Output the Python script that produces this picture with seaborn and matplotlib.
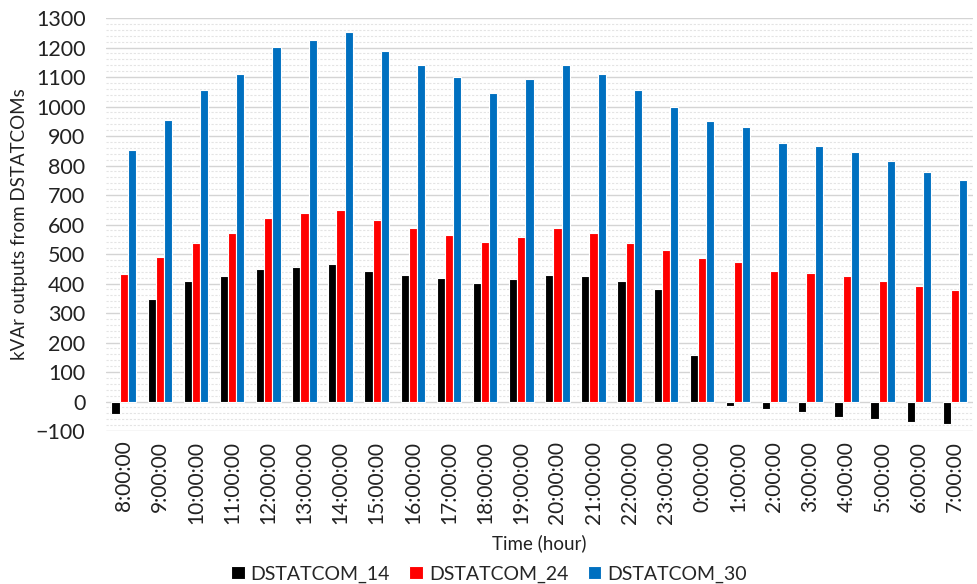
import matplotlib
matplotlib.use("Agg")
import matplotlib.pyplot as plt
from matplotlib.ticker import MultipleLocator
import seaborn as sns
import pandas as pd

hours = ["8:00:00", "9:00:00", "10:00:00", "11:00:00", "12:00:00", "13:00:00",
         "14:00:00", "15:00:00", "16:00:00", "17:00:00", "18:00:00", "19:00:00",
         "20:00:00", "21:00:00", "22:00:00", "23:00:00", "0:00:00", "1:00:00",
         "2:00:00", "3:00:00", "4:00:00", "5:00:00", "6:00:00", "7:00:00"]

dstatcom_14 = [-43, 346, 407, 424, 449, 457, 465, 444, 428, 419, 402, 415,
               428, 424, 407, 383, 157, -15, -27, -35, -51, -60, -68, -76]
dstatcom_24 = [432, 489, 538, 571, 621, 638, 650, 617, 588, 566, 541, 558,
               588, 571, 538, 513, 485, 473, 444, 435, 427, 410, 391, 379]
dstatcom_30 = [853, 956, 1055, 1112, 1202, 1227, 1253, 1190, 1141, 1100, 1046, 1092,
               1141, 1112, 1055, 1000, 952, 931, 878, 866, 846, 817, 777, 752]

series_names = ["DSTATCOM_14", "DSTATCOM_24", "DSTATCOM_30"]
colors = ["#000000", "#ff0000", "#0070c0"]

frames = []
for name, vals in zip(series_names, [dstatcom_14, dstatcom_24, dstatcom_30]):
    frames.append(pd.DataFrame({"hour": hours, "kvar": vals, "unit": name}))
df = pd.concat(frames, ignore_index=True)

sns.set_theme(style="white")
plt.rcParams["font.family"] = ["Lato", "DejaVu Sans"]

fig = plt.figure(figsize=(9.78, 5.84), dpi=100)
ax = fig.add_axes([0.108, 0.262, 0.887, 0.707])

sns.barplot(data=df, x="hour", y="kvar", hue="unit", order=hours,
            hue_order=series_names, palette=colors, width=0.68, gap=0,
            edgecolor="white", linewidth=0.8, saturation=1, errorbar=None, ax=ax)

ax.set_ylim(-100, 1300)
ax.yaxis.set_major_locator(MultipleLocator(100))
ax.yaxis.set_minor_locator(MultipleLocator(20))
ax.grid(which="major", axis="y", color="#d4d4d4", linewidth=1.0)
ax.grid(which="minor", axis="y", color="#e4e4e4", linewidth=0.8, linestyle=(0, (2, 1.5)))
ax.set_axisbelow(True)
for s in ax.spines.values():
    s.set_visible(False)

ax.tick_params(axis="y", which="both", length=0, labelsize=15.5, pad=14.5, colors="#222222")
ax.tick_params(axis="x", length=0, labelsize=15, pad=7, colors="#222222")
plt.setp(ax.get_xticklabels(), rotation=90)

ax.set_ylabel("kVAr outputs from DSTATCOMs", fontsize=13.5, color="#222222", labelpad=6)
ax.set_xlabel("Time (hour)", fontsize=13.5, color="#222222", labelpad=7.5)

handles, labels = ax.get_legend_handles_labels()
ax.get_legend().remove()
fig.legend(handles, labels, loc="center", bbox_to_anchor=(0.5, 0.017), ncol=3,
           frameon=False, fontsize=14, handlelength=0.7, handleheight=0.7,
           handletextpad=0.3, columnspacing=1.0)

fig.savefig("out.png", dpi=100)
